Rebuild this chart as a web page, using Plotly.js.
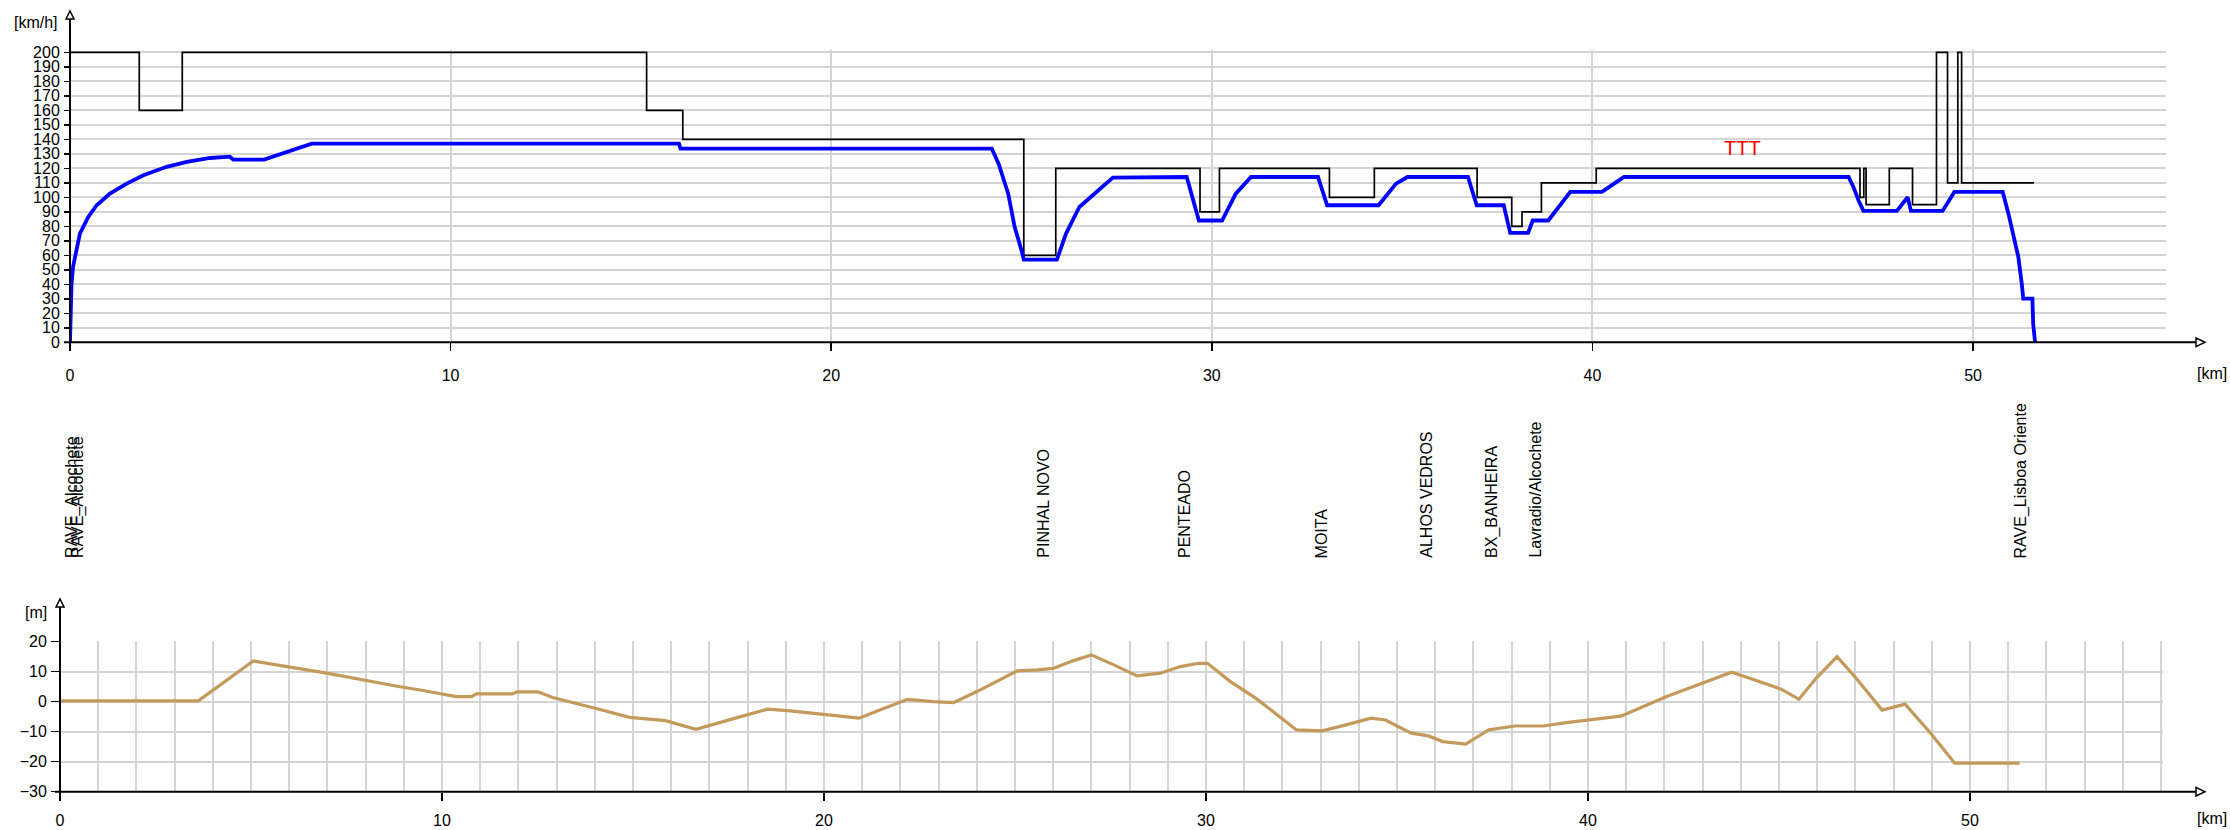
<!DOCTYPE html>
<html>
<head>
<meta charset="utf-8">
<script src="https://cdn.plot.ly/plotly-3.0.1.min.js"></script>
<style>html,body{margin:0;padding:0;background:#fff;}#chart{width:2230px;height:830px;}</style>
</head>
<body>
<div id="chart"></div>
<script>
// ---- data (km along the line) ----
const limitKm = [0, 1.82, 2.95, 15.15, 16.1, 25.06, 25.9, 29.69, 30.2, 33.09, 34.27, 36.97, 37.88, 38.15, 38.66, 40.1, 47.03, 47.13, 47.19, 47.8, 48.41, 49.04, 49.33, 49.6, 49.7, 51.6];
const limitKmh = [200, 160, 200, 160, 140, 60, 120, 90, 120, 100, 120, 100, 80, 90, 110, 120, 100, 120, 95, 120, 95, 200, 110, 200, 110, 110];

const speedKm = [0, 0.02, 0.04, 0.08, 0.13, 0.26, 0.48, 0.7, 1.05, 1.49, 1.93, 2.54, 3.07, 3.68, 4.2, 4.29, 5.1, 5.6, 6.35, 16.0, 16.04, 24.22, 24.4, 24.65, 24.82, 25.0, 25.06, 25.93, 26.17, 26.52, 26.88, 27.4, 29.34, 29.66, 30.27, 30.63, 31.03, 32.79, 33.03, 34.38, 34.84, 35.14, 36.73, 36.96, 37.67, 37.84, 38.31, 38.43, 38.84, 39.42, 40.25, 40.83, 46.73, 46.86, 46.99, 47.12, 48.0, 48.28, 48.37, 49.2, 49.51, 50.78, 50.93, 51.06, 51.19, 51.28, 51.32, 51.56, 51.58, 51.63];
const speedKmh = [0, 25, 40, 52, 58.9, 75, 86.4, 94.5, 102.5, 109.4, 115.2, 121, 124.4, 127.1, 128, 126, 126, 130.6, 137, 137, 133.5, 133.5, 123, 102.5, 79.5, 63.4, 57, 57, 75, 93.3, 101.4, 113.6, 114, 84, 84, 102.5, 114, 114, 94.5, 94.5, 109.4, 114, 114, 94.5, 94.5, 75.4, 75.4, 84, 84, 103.7, 103.7, 114, 114, 107, 98, 90.6, 90.6, 100, 90.6, 90.6, 103.7, 103.7, 88.7, 75, 58.9, 40.5, 30.1, 30.1, 12.9, 0];

const elevKm = [0, 3.62, 5.06, 5.41, 6.02, 6.98, 8.03, 8.9, 9.43, 10.37, 10.77, 10.9, 11.83, 11.97, 12.51, 12.9, 14.11, 14.91, 15.85, 16.65, 17.45, 18.52, 19.05, 19.85, 20.92, 21.46, 22.19, 22.86, 23.39, 23.99, 24.53, 25.06, 25.6, 26.0, 26.53, 27.0, 27.6, 28.2, 28.8, 29.33, 29.81, 30.04, 30.64, 31.31, 32.37, 33.04, 33.64, 34.32, 34.7, 35.37, 35.82, 36.2, 36.8, 37.4, 38.08, 38.83, 39.43, 40.18, 40.86, 42.06, 42.96, 43.76, 44.31, 45.07, 45.52, 45.97, 46.52, 47.02, 47.7, 48.3, 48.97, 49.6, 51.3];
const elevM = [0.3, 0.3, 13.6, 12.8, 11.5, 9.5, 6.9, 5.0, 3.9, 1.7, 1.7, 2.6, 2.6, 3.3, 3.3, 1.4, -2.5, -5.2, -6.3, -9.2, -6.3, -2.5, -3, -4.1, -5.5, -2.8, 0.8, 0, -0.3, 3.3, 6.7, 10.3, 10.6, 11.1, 13.7, 15.6, 12.2, 8.6, 9.5, 11.7, 12.8, 12.8, 6.7, 1.1, -9.4, -9.7, -7.8, -5.5, -6.1, -10.5, -11.4, -13.3, -14.1, -9.4, -8.1, -8.1, -7, -5.9, -4.8, 1.7, 6.1, 9.8, 7.5, 4.1, 0.8, 7.8, 15, 7.8, -2.8, -0.8, -10.5, -20.5, -20.5];

const stationNames = ["RAVE_Alcochete", "RAVE_Alcochete", "PINHAL NOVO", "PENTEADO", "MOITA", "ALHOS VEDROS", "BX_BANHEIRA", "Lavradio/Alcochete", "RAVE_Lisboa Oriente"];
const stationKm = [0.05, 0.21, 25.57, 29.27, 32.88, 35.62, 37.36, 38.48, 51.26];

const markerText = "TTT";
const markerKm = 43.94;
const markerKmh = 134;

// ---- layout helpers (pixel -> paper) ----
const W = 2230, H = 830;
const PX = x => x / W;
const PY = y => 1 - y / H;
const FONT = "Liberation Sans, Arial, sans-serif";
const GRID = "#d4d4d4";
const GW = 2;

const traces = [
  {x: limitKm, y: limitKmh, xaxis: "x", yaxis: "y", mode: "lines",
   line: {color: "#000000", width: 1.7, shape: "hv"}},
  {x: speedKm, y: speedKmh, xaxis: "x", yaxis: "y", mode: "lines",
   line: {color: "#0000ff", width: 3.8}},
  {x: elevKm, y: elevM, xaxis: "x2", yaxis: "y2", mode: "lines",
   line: {color: "#c49a5c", width: 3.2}}
];

const annotations = [];
stationNames.forEach((n, i) => annotations.push({
  text: n, xref: "x", yref: "paper", x: stationKm[i], y: PY(560),
  textangle: -90, xanchor: "center", yanchor: "bottom", showarrow: false,
  font: {family: FONT, size: 16, color: "#000"}
}));
annotations.push({text: markerText, xref: "x", yref: "y", x: markerKm, y: markerKmh,
  showarrow: false, font: {family: FONT, size: 20, color: "#ff0000"}});
const lab = (t, x, y) => ({text: t, xref: "paper", yref: "paper", x: PX(x), y: PY(y),
  xanchor: "center", yanchor: "middle", showarrow: false, font: {family: FONT, size: 16, color: "#000"}});
annotations.push(lab("[km/h]", 36, 22));
annotations.push(lab("[km]", 2212, 373));
annotations.push(lab("[m]", 36, 612));
annotations.push(lab("[km]", 2212, 818));

const ln = (x0, y0, x1, y1) => ({type: "line", xref: "paper", yref: "paper",
  x0: PX(x0), y0: PY(y0), x1: PX(x1), y1: PY(y1), line: {color: "#000", width: 2}});
const tri = (pts) => ({type: "path", xref: "paper", yref: "paper",
  path: "M" + pts.map(p => PX(p[0]) + "," + PY(p[1])).join(" L") + " Z",
  line: {color: "#000", width: 1.5}, fillcolor: "#fff"});
const shapes = [
  ln(70, 18, 70, 348), ln(64, 342.3, 2198, 342.3),
  tri([[66, 19], [70, 11], [74, 19]]), tri([[2196, 338], [2205, 342.3], [2196, 346.6]]),
  ln(60, 607, 60, 796), ln(55, 791.7, 2198, 791.7),
  tri([[56, 607], [60, 599], [64, 607]]), tri([[2196, 787.4], [2205, 791.7], [2196, 796]])
];

const tickFont = {family: FONT, size: 16, color: "#000"};
const layout = {
  width: W, height: H, margin: {l: 0, r: 0, t: 0, b: 0},
  paper_bgcolor: "#fff", plot_bgcolor: "rgba(0,0,0,0)", showlegend: false, hovermode: false,
  xaxis: {domain: [PX(70), PX(2166)], range: [0, 55.07], anchor: "y", dtick: 10,
    showgrid: true, gridcolor: GRID, gridwidth: GW, zeroline: false, showline: false,
    ticks: "outside", ticklen: 8, tickwidth: 1.5, tickcolor: "#000", tickfont: tickFont, ticklabelstandoff: 10},
  yaxis: {domain: [PY(342.3), PY(50.1)], range: [0, 201.5], anchor: "x", dtick: 10,
    showgrid: true, gridcolor: GRID, gridwidth: GW, zeroline: false, showline: false,
    ticks: "outside", ticklen: 5, tickwidth: 1.5, tickcolor: "#000", tickfont: tickFont, ticklabelstandoff: 1},
  xaxis2: {domain: [PX(60), PX(2162.9)], range: [0, 55.05], anchor: "y2", dtick: 10,
    showgrid: true, gridcolor: GRID, gridwidth: GW, zeroline: false, showline: false,
    minor: {dtick: 1, showgrid: true, gridcolor: GRID, gridwidth: GW},
    ticks: "outside", ticklen: 8, tickwidth: 1.5, tickcolor: "#000", tickfont: tickFont, ticklabelstandoff: 6},
  yaxis2: {domain: [PY(791.7), PY(640.8)], range: [-30, 20.3], anchor: "x2", dtick: 10,
    showgrid: true, gridcolor: GRID, gridwidth: GW, zeroline: false, showline: false,
    ticks: "outside", ticklen: 8, tickwidth: 1.5, tickcolor: "#000", tickfont: tickFont, ticklabelstandoff: 1},
  annotations: annotations, shapes: shapes
};

Plotly.newPlot("chart", traces, layout, {staticPlot: true, displayModeBar: false});
</script>
</body>
</html>
